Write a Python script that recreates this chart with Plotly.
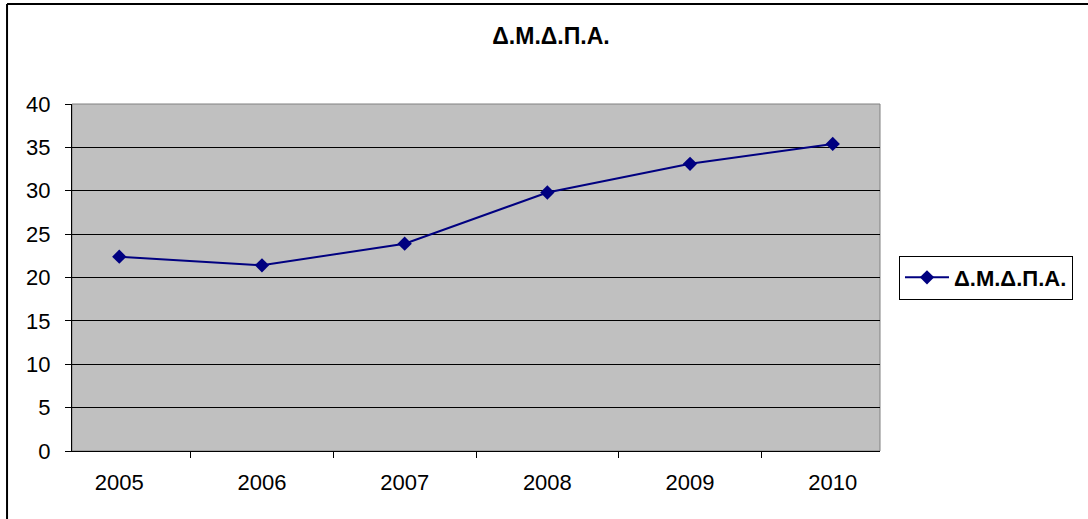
import plotly.graph_objects as go

years = ["2005", "2006", "2007", "2008", "2009", "2010"]
values = [22.4, 21.4, 23.9, 29.8, 33.1, 35.4]
series_name = "Δ.Μ.Δ.Π.Α."

NAVY = "#000080"
FONT = "Arial, Liberation Sans, sans-serif"

fig = go.Figure(go.Scatter(
    x=years, y=values, name=series_name, mode="lines+markers",
    line=dict(color=NAVY, width=2),
    marker=dict(symbol="diamond", size=11, color=NAVY),
    showlegend=True,
))

fig.update_layout(
    width=1088, height=519,
    paper_bgcolor="white", plot_bgcolor="#C0C0C0",
    font=dict(family=FONT, size=22, color="black"),
    margin=dict(l=72, r=208, t=104, b=68),
    title=dict(text="<b>" + series_name + "</b>", font=dict(size=23, color="black"),
               x=551 / 1088, xanchor="center", xref="container",
               y=1 - 36 / 519, yanchor="middle", yref="container"),
    legend=dict(x=1.0235, xanchor="left", y=0.5, yanchor="middle",
                bgcolor="white", bordercolor="black", borderwidth=1,
                font=dict(size=22, weight="bold"), itemwidth=44),
    xaxis=dict(type="category", tickson="boundaries", ticks="outside", ticklen=6,
               tickcolor="black", showline=True, linecolor="black", linewidth=1,
               showgrid=False, zeroline=False, ticklabelstandoff=12),
    yaxis=dict(range=[0, 40], dtick=5, ticks="outside", ticklen=6, tickcolor="black",
               showline=True, linecolor="black", linewidth=1,
               gridcolor="black", gridwidth=1, zeroline=False, ticklabelstandoff=10),
    shapes=[
        dict(type="rect", xref="paper", yref="paper", x0=0, x1=1, y0=0, y1=1,
             line=dict(color="#808080", width=1), layer="below"),
        dict(type="line", xref="paper", yref="paper", x0=-0.0804, x1=1.4, y0=1.288, y1=1.288,
             line=dict(color="black", width=2)),
        dict(type="line", xref="paper", yref="paper", x0=-0.0804, x1=-0.0804, y0=-0.3, y1=1.288,
             line=dict(color="black", width=2)),
    ],
)

fig.write_html("out.html", config={"displayModeBar": False},
               post_script="document.body.style.margin='0';")
